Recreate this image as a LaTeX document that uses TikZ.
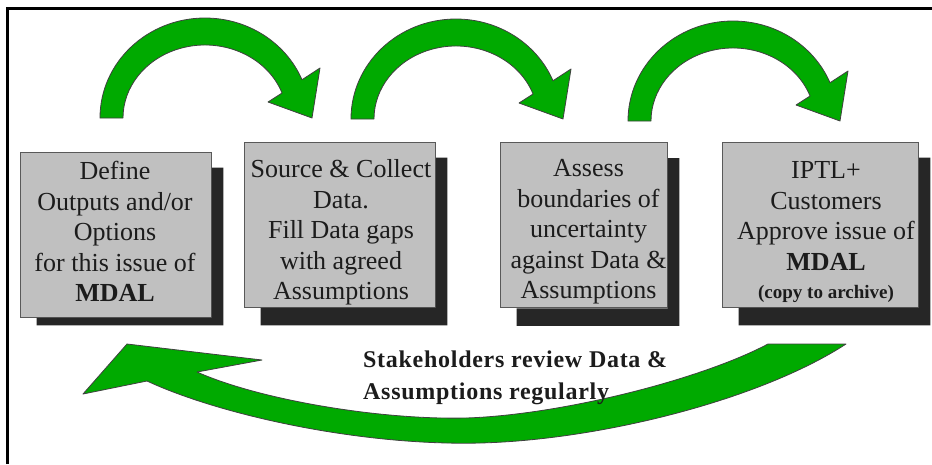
\documentclass[tikz,border=0pt]{standalone}
\usepackage{fontspec}
\setmainfont{Liberation Serif}
\usetikzlibrary{calc}

\definecolor{arrowgreen}{RGB}{0,170,0}
\definecolor{boxgray}{RGB}{192,192,192}
\definecolor{shadowgray}{RGB}{38,38,38}
\definecolor{inkgray}{RGB}{28,28,28}

\tikzset{
  stepbox/.style={draw=black!65, line width=0.9pt, fill=boxgray, rectangle,
    minimum height=165, inner sep=0pt},
  steptext/.style={align=center, text=inkgray, inner sep=0pt,
    font=\fontsize{26}{30.5}\selectfont},
  greenarrow/.style={fill=arrowgreen, draw=black!75, line width=0.8pt, line join=round}
}

% curved arrow over the top, (#1) is the foot of the arc
\newcommand{\archarrow}[1]{%
  \filldraw[greenarrow, shift={(#1)}]
    (-105,0) arc[start angle=180, end angle=337.5, x radius=105, y radius=100]
    -- (115,-50) -- (107,0) -- (63,-16) -- (77.05,-24.97)
    arc[start angle=340, end angle=180, x radius=82, y radius=73] -- cycle;}

\begin{document}
\begin{tikzpicture}[x=1pt, y=-1pt]
    \useasboundingbox (0,0) rectangle (932,464);
    \fill[white] (0,0) rectangle (932,464);
    % frame (left and top only)
    \draw[line width=3pt] (7.5,464) -- (7.5,8.7) -- (932,8.7);

    % the four steps
    \node[stepbox, minimum width=191] (define) at (115.5,234.5) {};
    \node[stepbox, minimum width=191] (collect) at (339.5,224.5) {};
    \node[stepbox, minimum width=167] (assess) at (583.5,225) {};
    \node[stepbox, minimum width=196] (approve) at (820,224.5) {};

    % shadows
    \foreach \b/\d in {define/8, collect/18, assess/18, approve/18}
      \fill[shadowgray] ($(\b.north east)+(0.5,16)$) rectangle ($(\b.south east)+(12,\d)$)
                        ($(\b.south west)+(17,0.5)$) rectangle ($(\b.south east)+(12,\d)$);

    \node[steptext] (define-txt) at ($(define)+(-0.5,-3)$)
      {Define\\Outputs and/or\\Options\\for this issue of\\\textbf{MDAL}};
    \node[steptext] (collect-txt) at ($(collect)+(1.5,8)$)
      {Source \& Collect\\Data.\\Fill Data gaps\\with agreed\\Assumptions};
    \node[steptext] (assess-txt) at ($(assess)+(5,7)$)
      {Assess\\boundaries of\\uncertainty\\against Data \&\\Assumptions};
    \node[steptext] (approve-txt) at ($(approve)+(6,8)$)
      {IPTL+\\Customers\\Approve issue of\\\textbf{MDAL}\\[-2pt]
       {\fontsize{19}{22}\selectfont\bfseries (copy to archive)}};

    % arcs from step to step
    \coordinate (a1) at (205,118);
    \coordinate (a2) at (456,119);
    \coordinate (a3) at (733,121);
    \archarrow{a1}
    \archarrow{a2}
    \archarrow{a3}

    % feedback arrow back to the first step
    \filldraw[greenarrow]
      (846,344) .. controls (760,400) and (600,440) .. (480,443)
                .. controls (360,446) and (220,415) .. (147,381)
      -- (83,394) -- (127,344) -- (262,360) -- (197,372)
      .. controls (260,400) and (380,420) .. (466,418)
      .. controls (560,415) and (700,380) .. (768,344) -- cycle;
    \node[anchor=west, align=left, text=inkgray, inner sep=0pt,
          font=\fontsize{24}{32}\selectfont\bfseries\addfontfeature{LetterSpace=3}]
      (review) at (363,378) {Stakeholders review Data \&\\Assumptions regularly};
\end{tikzpicture}
\end{document}
